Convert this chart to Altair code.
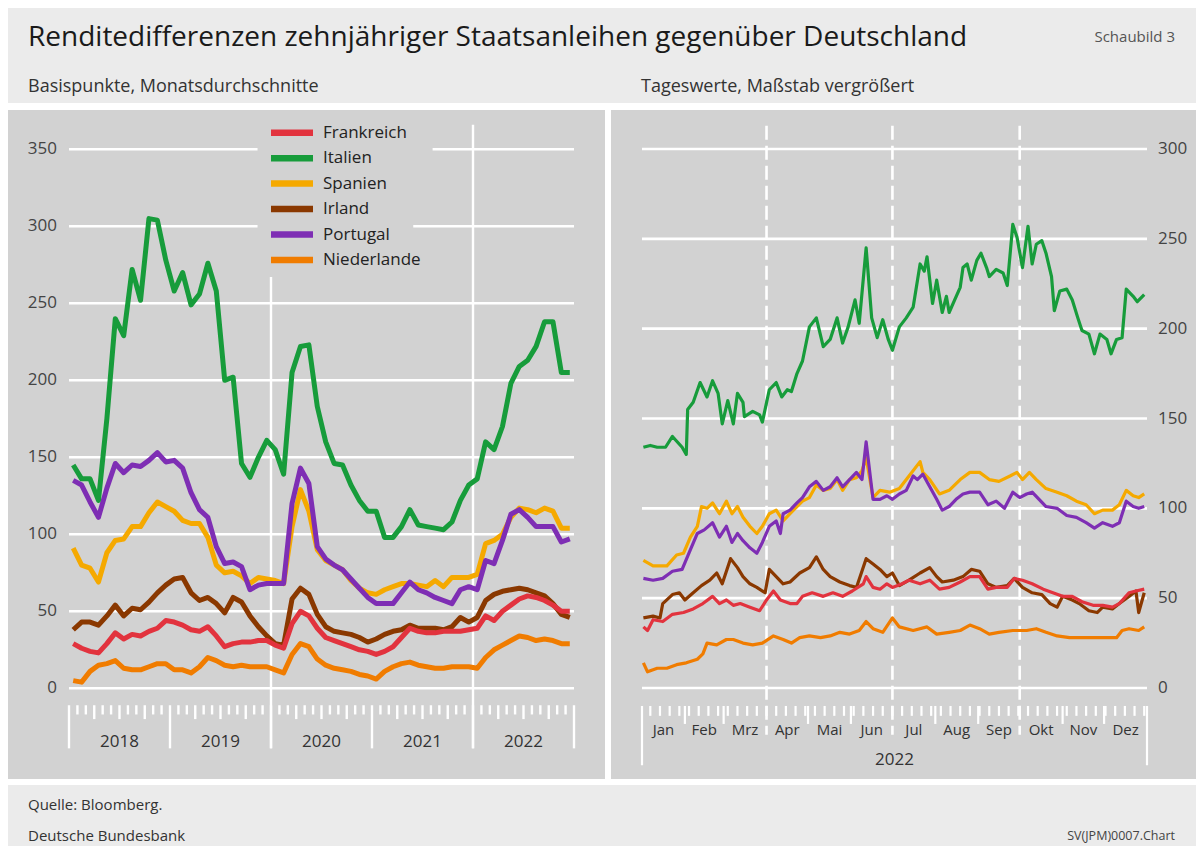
import altair as alt
import pandas as pd

# ---------------- data ----------------
COUNTRIES = ["Frankreich", "Italien", "Spanien", "Irland", "Portugal", "Niederlande"]
COLORS = ["#e2333e", "#179c3b", "#f5a900", "#8a3800", "#7e2eb4", "#f07c00"]
DRAW_ORDER = ["Niederlande", "Spanien", "Portugal", "Irland", "Frankreich", "Italien"]

# monthly averages Jan 2018 .. Dec 2022 (basis points)
FR_M = [29, 26, 24, 23, 29, 36, 32, 35, 34, 37, 39, 44,
        43, 41, 38, 37, 40, 34, 27, 29, 30, 30, 31, 31,
        28, 26, 42, 50, 47, 39, 33, 31, 29, 27, 25, 24,
        22, 24, 27, 33, 39, 37, 36, 36, 37, 37, 37, 38,
        39, 47, 44, 50, 54, 58, 60, 59, 57, 54, 50, 50]
IT_M = [145, 136, 136, 122, 175, 240, 229, 272, 252, 305, 304, 278,
        258, 270, 249, 256, 276, 258, 200, 202, 146, 137, 150, 161,
        155, 139, 205, 222, 223, 183, 160, 146, 145, 132, 122, 115,
        115, 98, 98, 105, 116, 106, 105, 104, 103, 108, 122, 132,
        136, 160, 155, 170, 198, 209, 213, 222, 238, 238, 205, 205]
ES_M = [91, 80, 78, 69, 88, 96, 97, 105, 105, 114, 121, 118,
        115, 109, 107, 107, 98, 80, 75, 76, 73, 68, 72, 71,
        70, 68, 105, 129, 115, 90, 83, 80, 77, 70, 65, 62,
        61, 64, 66, 68, 68, 67, 66, 70, 66, 72, 72, 72,
        74, 94, 96, 100, 111, 117, 116, 114, 117, 115, 104, 104]
IE_M = [38, 43, 43, 41, 47, 54, 47, 52, 51, 56, 62, 67,
        71, 72, 62, 57, 59, 55, 49, 59, 56, 47, 40, 34,
        29, 28, 58, 65, 61, 48, 40, 37, 36, 35, 33, 30,
        32, 35, 37, 38, 41, 39, 39, 39, 38, 40, 46, 43,
        46, 57, 61, 63, 64, 65, 64, 62, 60, 55, 48, 46]
PT_M = [135, 132, 121, 111, 130, 146, 140, 145, 144, 148, 153, 147,
        148, 143, 127, 116, 111, 92, 81, 82, 79, 64, 67, 68,
        68, 68, 120, 143, 133, 92, 84, 80, 77, 71, 65, 59,
        55, 55, 55, 62, 69, 64, 62, 59, 57, 55, 64, 66,
        64, 83, 81, 96, 113, 116, 111, 105, 105, 105, 95, 97]
NL_M = [5, 4, 11, 15, 16, 18, 13, 12, 12, 14, 16, 16,
        12, 12, 10, 14, 20, 18, 15, 14, 15, 14, 14, 14,
        12, 10, 22, 29, 27, 19, 15, 13, 12, 11, 9, 8,
        6, 11, 14, 16, 17, 15, 14, 13, 13, 14, 14, 14,
        13, 20, 25, 28, 31, 34, 33, 31, 32, 31, 29, 29]

# daily values 2022: (day of year offset, basis points)
FR_D = [(1, 34), (4, 32), (8, 38), (15, 37), (22, 41), (30, 42), (37, 44), (44, 47), (51, 51), (56, 47),
        (61, 49), (66, 46), (71, 47), (78, 45), (85, 43), (90, 49), (95, 54), (100, 49), (107, 47), (112, 47),
        (116, 51), (123, 53), (131, 51), (138, 53), (145, 51), (152, 54), (160, 58), (162, 62), (167, 56),
        (172, 55), (177, 58), (181, 56), (188, 58), (193, 60), (201, 58), (208, 60), (215, 55), (222, 56),
        (230, 59), (237, 62), (244, 62), (250, 55), (256, 56), (264, 56), (269, 61), (275, 60), (282, 58),
        (290, 55), (297, 53), (304, 51), (311, 51), (318, 48), (326, 46), (333, 46), (340, 45), (345, 47),
        (352, 53), (357, 54), (363, 55)]
IT_D = [(1, 134), (6, 135), (11, 134), (17, 134), (22, 140), (29, 134), (32, 130), (33, 155), (37, 159),
        (42, 170), (47, 162), (51, 171), (55, 164), (58, 147), (62, 160), (66, 147), (69, 164), (73, 159),
        (74, 151), (80, 154), (85, 152), (87, 148), (92, 166), (97, 170), (101, 162), (105, 166), (108, 165),
        (112, 175), (116, 182), (121, 201), (126, 206), (131, 190), (136, 194), (141, 206), (145, 192),
        (149, 201), (154, 216), (157, 203), (162, 245), (166, 206), (170, 195), (174, 205), (178, 194),
        (181, 188), (186, 201), (191, 206), (196, 212), (201, 236), (204, 232), (206, 240), (210, 214),
        (213, 227), (217, 209), (220, 218), (222, 209), (226, 216), (230, 223), (232, 234), (235, 236),
        (238, 227), (242, 238), (245, 242), (249, 234), (251, 229), (256, 233), (261, 231), (264, 224),
        (268, 258), (271, 251), (275, 234), (279, 257), (282, 236), (285, 247), (289, 249), (292, 242),
        (296, 229), (298, 210), (302, 221), (307, 222), (311, 216), (315, 206), (318, 199), (323, 197),
        (327, 186), (331, 197), (336, 194), (339, 186), (343, 194), (347, 195), (350, 222), (355, 218),
        (358, 215), (363, 219)]
ES_D = [(1, 71), (8, 68), (18, 68), (25, 74), (30, 75), (35, 84), (40, 90), (43, 101), (47, 100), (51, 103),
        (56, 97), (61, 104), (65, 97), (69, 101), (73, 95), (78, 90), (83, 86), (87, 90), (92, 97), (97, 99),
        (102, 93), (107, 97), (112, 101), (116, 104), (121, 106), (126, 113), (131, 110), (136, 111),
        (141, 116), (145, 110), (150, 116), (155, 117), (159, 121), (162, 128), (167, 106), (172, 110),
        (179, 109), (186, 111), (193, 118), (201, 126), (203, 120), (208, 116), (215, 108), (222, 110),
        (230, 116), (237, 120), (244, 120), (251, 116), (258, 115), (266, 118), (271, 120), (275, 116),
        (280, 120), (285, 116), (292, 111), (300, 109), (307, 107), (314, 104), (321, 102), (327, 97),
        (333, 99), (340, 99), (345, 102), (350, 110), (355, 107), (359, 106), (363, 108)]
IE_D = [(1, 39), (8, 40), (13, 39), (15, 47), (22, 52), (27, 53), (31, 49), (37, 53), (43, 57), (49, 60),
        (54, 64), (58, 58), (64, 72), (69, 67), (73, 62), (78, 58), (83, 56), (89, 53), (92, 66), (97, 62),
        (102, 58), (107, 59), (114, 64), (121, 67), (126, 73), (131, 66), (136, 62), (143, 59), (150, 57),
        (155, 56), (162, 72), (167, 69), (172, 66), (177, 62), (181, 64), (186, 57), (193, 60), (201, 64),
        (208, 67), (213, 62), (217, 59), (225, 60), (232, 62), (238, 66), (244, 65), (250, 58), (256, 56),
        (264, 57), (269, 61), (275, 56), (282, 53), (289, 52), (295, 47), (300, 45), (304, 51), (311, 49),
        (316, 47), (323, 43), (329, 42), (333, 45), (340, 44), (345, 47), (352, 51), (357, 54), (359, 42),
        (363, 53)]
PT_D = [(1, 61), (8, 60), (15, 61), (22, 65), (29, 66), (35, 77), (40, 86), (45, 88), (51, 92), (56, 84),
        (61, 90), (65, 81), (69, 86), (73, 82), (78, 78), (83, 75), (87, 81), (92, 90), (97, 93), (100, 86),
        (102, 97), (107, 99), (112, 103), (116, 106), (121, 112), (126, 115), (131, 110), (136, 112),
        (141, 117), (145, 112), (150, 116), (155, 120), (159, 116), (162, 137), (167, 105), (172, 105),
        (177, 107), (181, 105), (186, 108), (191, 110), (196, 118), (199, 116), (203, 119), (208, 112),
        (213, 105), (217, 99), (222, 101), (227, 105), (232, 108), (237, 109), (244, 109), (250, 102),
        (256, 104), (262, 100), (268, 109), (273, 106), (278, 108), (282, 109), (287, 105), (292, 101),
        (300, 100), (307, 96), (314, 95), (321, 92), (327, 89), (333, 92), (340, 90), (345, 92), (350, 104),
        (355, 101), (359, 100), (363, 101)]
NL_D = [(1, 14), (4, 9), (11, 11), (18, 11), (25, 13), (32, 14), (40, 16), (44, 19), (47, 25), (54, 24),
        (61, 27), (66, 27), (73, 25), (80, 24), (87, 25), (95, 29), (102, 27), (108, 25), (114, 28), (121, 29),
        (129, 28), (136, 29), (143, 31), (150, 30), (157, 32), (162, 37), (167, 33), (174, 31), (181, 39),
        (186, 34), (196, 32), (206, 34), (213, 30), (222, 31), (230, 32), (237, 35), (244, 33), (251, 30),
        (258, 31), (268, 32), (278, 32), (285, 33), (292, 31), (300, 29), (309, 28), (318, 28), (326, 28),
        (336, 28), (343, 28), (347, 32), (352, 33), (359, 32), (363, 34)]

YEARS = ["2018", "2019", "2020", "2021", "2022"]
MONTHS = ["Jan", "Feb", "Mrz", "Apr", "Mai", "Jun", "Jul", "Aug", "Sep", "Okt", "Nov", "Dez"]
MONTH_START = [0, 31, 59, 90, 120, 151, 181, 212, 243, 273, 304, 334, 365]
LEFT_TICKS = [0, 50, 100, 150, 200, 250, 300, 350]
RIGHT_TICKS = [0, 50, 100, 150, 200, 250, 300]

MONTHLY = dict(zip(COUNTRIES, [FR_M, IT_M, ES_M, IE_M, PT_M, NL_M]))
DAILY = dict(zip(COUNTRIES, [FR_D, IT_D, ES_D, IE_D, PT_D, NL_D]))

# ---------------- styling / layout ----------------
FONT = "Open Sans"
PANEL_BG = "#d2d2d2"
BAND_BG = "#ebebeb"
TXT = "#222222"
AX_TXT = "#444444"
W, H = 1188, 838

CS = alt.Scale(domain=COUNTRIES, range=COLORS)
LX = alt.Scale(domain=[0, 60], range=[61, 566], nice=False, zero=False)
LY = alt.Scale(domain=[0, 350], range=[680.3, 141.3], nice=False, zero=False)
RX = alt.Scale(domain=[0, 365], range=[634, 1139], nice=False, zero=False)
RY = alt.Scale(domain=[0, 300], range=[680, 141], nice=False, zero=False)
LEG = alt.Scale(domain=[0, 5], range=[124.7, 252], nice=False, zero=False)

one = pd.DataFrame({"a": [0]})


def box(x, x2, y, y2, color):
    return alt.Chart(one).mark_rect(color=color).encode(
        x=alt.value(x), x2=alt.value(x2), y=alt.value(y), y2=alt.value(y2))


def txt(text, x, y, size, color=TXT, align="left"):
    return alt.Chart(one).mark_text(text=text, align=align, baseline="middle", fontSize=size,
                                    font=FONT, color=color).encode(x=alt.value(x), y=alt.value(y))


layers = [
    box(0, W, 0, 95, BAND_BG),
    box(0, 597, 102, 771, PANEL_BG),
    box(603, W, 102, 771, PANEL_BG),
    box(0, W, 777, H, BAND_BG),
    txt("Renditedifferenzen zehnjähriger Staatsanleihen gegenüber Deutschland", 20, 30, 28, "#1a1a1a"),
    txt("Schaubild 3", 1167, 29, 15, "#555555", "right"),
    txt("Basispunkte, Monatsdurchschnitte", 20, 79, 18, "#333333"),
    txt("Tageswerte, Maßstab vergrößert", 633, 79, 18, "#333333"),
    txt("Quelle: Bloomberg.", 20, 797, 15, "#333333"),
    txt("Deutsche Bundesbank", 20, 828, 15, "#333333"),
    txt("SV(JPM)0007.Chart", 1167, 828, 12.5, "#444444", "right"),
]

# ---------- left panel: grid, ticks, labels ----------
gl = []
for v in LEFT_TICKS:
    if v == 350:
        gl += [(v, 0, 22.4), (v, 43.2, 60)]
    elif v == 300:
        gl += [(v, 0, 22.4), (v, 40.9, 60)]
    else:
        gl.append((v, 0, 60))
gl_df = pd.DataFrame(gl, columns=["v", "m1", "m2"])
layers.append(alt.Chart(gl_df).mark_rule(color="white", strokeWidth=2.6).encode(
    x=alt.X("m1:Q", scale=LX, axis=None), x2="m2:Q", y=alt.Y("v:Q", scale=LY, axis=None)))

lt = []
for i in range(61):
    if i % 12 == 0:
        lt.append((i, -11, -39))
    elif i % 3 == 0:
        lt.append((i, -11, -20))
    else:
        lt.append((i, -11, -17))
lt += [(24, 267, -39), (48, 366, -39)]
lt_df = pd.DataFrame(lt, columns=["m", "y1", "y2"])
layers.append(alt.Chart(lt_df).mark_rule(color="white", strokeWidth=2.4).encode(
    x=alt.X("m:Q", scale=LX, axis=None), y=alt.Y("y1:Q", scale=LY, axis=None), y2="y2:Q"))

ylab_l = pd.DataFrame({"v": LEFT_TICKS, "t": [str(v) for v in LEFT_TICKS]})
layers.append(alt.Chart(ylab_l).mark_text(align="right", baseline="middle", fontSize=17, font=FONT,
                                          color=AX_TXT).encode(
    x=alt.value(49), y=alt.Y("v:Q", scale=LY, axis=None), text="t:N"))

yr_df = pd.DataFrame({"m": [6 + 12 * k for k in range(5)], "t": YEARS})
layers.append(alt.Chart(yr_df).mark_text(align="center", baseline="middle", fontSize=17, font=FONT,
                                         color="#333333").encode(
    x=alt.X("m:Q", scale=LX, axis=None), y=alt.value(734), text="t:N"))

# ---------- right panel: grid, ticks, labels ----------
gr_df = pd.DataFrame({"v": RIGHT_TICKS, "d1": 0, "d2": 365})
layers.append(alt.Chart(gr_df).mark_rule(color="white", strokeWidth=2.6).encode(
    x=alt.X("d1:Q", scale=RX, axis=None), x2="d2:Q", y=alt.Y("v:Q", scale=RY, axis=None)))

rt = [(6 + 7 * k, -10, -15.5) for k in range(52)]
rt += [(d, -10, -20) for d in MONTH_START[1:-1] if d not in (90, 181, 273)]
rt += [(0, -10, -43), (365, -10, -43)]
rt_df = pd.DataFrame(rt, columns=["d", "y1", "y2"])
layers.append(alt.Chart(rt_df).mark_rule(color="white", strokeWidth=2.2).encode(
    x=alt.X("d:Q", scale=RX, axis=None), y=alt.Y("y1:Q", scale=RY, axis=None), y2="y2:Q"))

q_df = pd.DataFrame({"d": [90, 181, 273], "y1": 313, "y2": -26})
layers.append(alt.Chart(q_df).mark_rule(color="white", strokeWidth=2.6, strokeDash=[14, 6]).encode(
    x=alt.X("d:Q", scale=RX, axis=None), y=alt.Y("y1:Q", scale=RY, axis=None), y2="y2:Q"))

ylab_r = pd.DataFrame({"v": RIGHT_TICKS, "t": [str(v) for v in RIGHT_TICKS]})
layers.append(alt.Chart(ylab_r).mark_text(align="left", baseline="middle", fontSize=17, font=FONT,
                                          color=AX_TXT).encode(
    x=alt.value(1150), y=alt.Y("v:Q", scale=RY, axis=None), text="t:N"))

mon_df = pd.DataFrame({"d": [(MONTH_START[k] + MONTH_START[k + 1]) / 2 for k in range(12)], "t": MONTHS})
layers.append(alt.Chart(mon_df).mark_text(align="center", baseline="middle", fontSize=15, font=FONT,
                                          color="#333333").encode(
    x=alt.X("d:Q", scale=RX, axis=None), y=alt.value(722), text="t:N"))
layers.append(alt.Chart(pd.DataFrame({"d": [182.5], "t": ["2022"]})).mark_text(
    align="center", baseline="middle", fontSize=17, font=FONT, color="#333333").encode(
    x=alt.X("d:Q", scale=RX, axis=None), y=alt.value(752), text="t:N"))

# ---------- data lines ----------
for c in DRAW_ORDER:
    dfm = pd.DataFrame({"m": [i + 0.5 for i in range(60)], "v": MONTHLY[c], "country": c})
    layers.append(alt.Chart(dfm).mark_line(strokeWidth=5, strokeJoin="round").encode(
        x=alt.X("m:Q", scale=LX, axis=None), y=alt.Y("v:Q", scale=LY, axis=None),
        color=alt.Color("country:N", scale=CS, legend=None)))
for c in DRAW_ORDER:
    dfd = pd.DataFrame(DAILY[c], columns=["d", "v"])
    dfd["country"] = c
    layers.append(alt.Chart(dfd).mark_line(strokeWidth=3.2, strokeJoin="round").encode(
        x=alt.X("d:Q", scale=RX, axis=None), y=alt.Y("v:Q", scale=RY, axis=None),
        color=alt.Color("country:N", scale=CS, legend=None)))

# ---------- legend ----------
leg_df = pd.DataFrame({"country": COUNTRIES, "row": list(range(6))})
layers.append(alt.Chart(leg_df).mark_rule(strokeWidth=6.5).encode(
    x=alt.value(263), x2=alt.value(305), y=alt.Y("row:Q", scale=LEG, axis=None),
    color=alt.Color("country:N", scale=CS, legend=None)))
layers.append(alt.Chart(leg_df).mark_text(align="left", baseline="middle", fontSize=17, font=FONT,
                                          color=TXT).encode(
    x=alt.value(315), y=alt.Y("row:Q", scale=LEG, axis=None), text="country:N"))

chart = alt.layer(*layers).resolve_scale(x="independent", y="independent", color="independent").properties(
    width=W, height=H, autosize=alt.AutoSizeParams(type="none"), padding=0, background="white"
).configure_view(stroke=None)

chart.save("out.html", embed_options={"renderer": "svg", "actions": False})
